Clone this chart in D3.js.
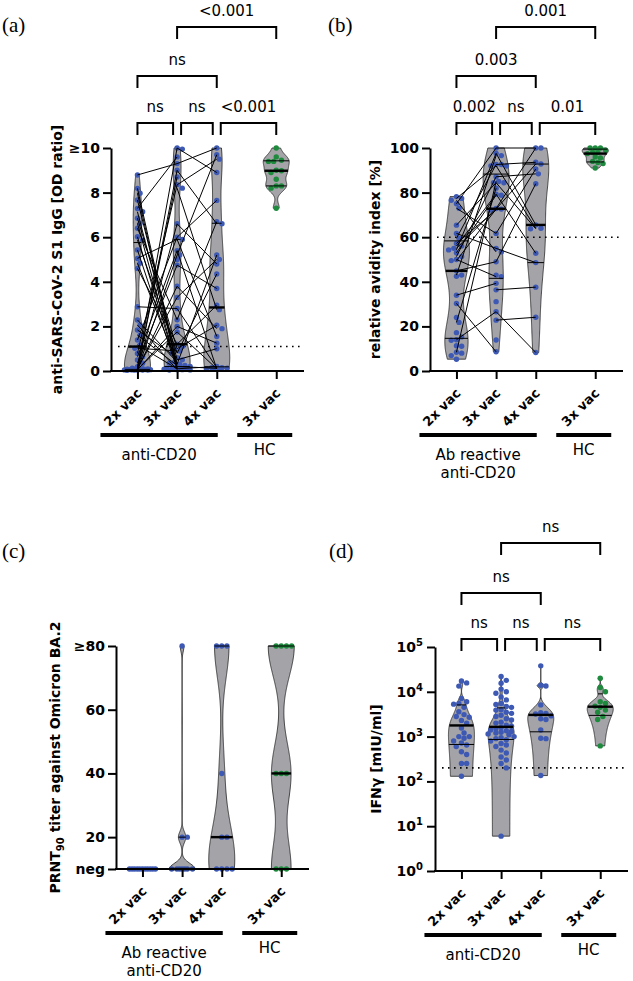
<!DOCTYPE html>
<html><head><meta charset="utf-8">
<script src="https://cdn.jsdelivr.net/npm/d3@7"></script>
<style>body{margin:0;background:#fff}</style>
</head><body>
<script>
// ---------------- DATA ----------------
const categories = ["2x vac", "3x vac", "4x vac", "3x vac"];

// (a) anti-SARS-CoV-2 S1 IgG [OD ratio]
const igg2x = [8.79, 8.19, 7.97, 7.67, 7.29, 7.14, 6.85, 6.62, 6.40, 6.02, 5.87, 5.43, 5.05, 4.83, 4.60, 2.88, 2.29, 2.06, 1.84, 1.61, 1.39, 1.17, 1.02, 0.79, 0.64, 0.49, 0.35, 0.19, 0.12, 0.10, 0.09, 0.08, 0.08, 0.07, 0.07, 0.06, 0.06, 0.05, 0.05, 0.05, 0.04, 0.04, 0.04, 0.03];
const igg3x = [10.0, 9.95, 9.6, 9.3, 9.0, 8.7, 8.35, 8.2, 6.6, 6.0, 5.9, 5.4, 5.2, 5.0, 4.75, 3.8, 3.3, 2.8, 2.3, 2.0, 1.75, 1.2, 1.1, 1.0, 0.9, 0.8, 0.6, 0.5, 0.4, 0.35, 0.3, 0.25, 0.2, 0.15, 0.12, 0.1, 0.1, 0.08, 0.08, 0.06, 0.06, 0.05, 0.04];
const igg4x = [10.0, 9.7, 9.5, 8.9, 7.65, 6.7, 6.6, 5.2, 5.0, 4.8, 4.35, 3.7, 2.95, 2.75, 2.05, 1.9, 1.55, 1.25, 1.0, 0.2, 0.15, 0.15, 0.12, 0.1, 0.1, 0.1];
const iggHC = [10.0, 9.6, 9.45, 9.4, 9.4, 9.0, 8.98, 8.9, 8.6, 8.3, 8.3, 8.2, 7.3];
const iggPairs23 = [[8.79, 9.3], [8.19, 0.2], [7.97, 0.1], [7.67, 0.5], [7.29, 9.6], [7.14, 0.3], [6.85, 1.0], [6.62, 0.12], [6.40, 2.3], [6.02, 0.15], [5.87, 0.8], [5.43, 0.08], [5.05, 5.9], [4.83, 0.35], [4.60, 1.2], [2.88, 2.8], [2.29, 0.4], [2.06, 0.06], [1.84, 0.6], [1.61, 0.25], [1.39, 6.0], [1.17, 0.1], [1.02, 0.9], [0.79, 8.35], [0.64, 5.4], [0.35, 4.75], [0.19, 10.0], [0.12, 3.3], [0.10, 9.0], [0.09, 8.7], [0.08, 1.75], [0.07, 3.8], [0.06, 6.6], [0.05, 2.0], [0.04, 5.2]];
const iggPairs34 = [[10.0, 8.9], [9.3, 10.0], [9.0, 6.6], [8.35, 9.5], [8.2, 2.75], [6.6, 4.8], [6.0, 7.65], [5.9, 1.55], [5.4, 0.1], [5.2, 9.7], [4.75, 3.7], [3.8, 1.9], [3.3, 5.0], [2.8, 0.15], [2.3, 6.7], [2.0, 1.25], [1.75, 0.1], [1.2, 2.95], [1.0, 2.05], [0.8, 4.35], [0.5, 1.0], [0.3, 5.2], [0.2, 0.12], [0.1, 0.2]];
const iggTicks = [0, 2, 4, 6, 8, 10];
const iggTickLabels = ["0", "2", "4", "6", "8", "≥10"];
const iggCutoff = 1.1;
const iggBrackets = [[0, 1, "ns", 0], [1, 2, "ns", 0], [2, 3, "<0.001", 0], [0, 2, "ns", 1], [1, 3, "<0.001", 2]];

// (b) relative avidity index [%]
const avid2x = [78.2, 77.4, 76.6, 75, 73, 65.4, 61.7, 59.5, 57.2, 56, 55, 54.3, 53, 51.3, 50, 49.5, 44.9, 43, 42.5, 34, 30.3, 24, 21.8, 17.2, 15.3, 14, 13.8, 11.3, 11.1, 8.4, 8.0, 6.9, 5.3];
const avid3x = [100, 97.6, 96.6, 92.6, 92.6, 92, 91.9, 87.1, 85, 84.4, 84.4, 82, 79.3, 78.8, 72.9, 72.6, 72.2, 61.7, 55, 53.4, 49, 43, 42.3, 39.3, 36.4, 31.1, 26.6, 22.8, 13.9, 8.6];
const avid4x = [100, 100, 93.6, 92.8, 90.6, 88.4, 84, 65.5, 64, 63.8, 52.8, 48.6, 37.6, 24.1, 8.3];
const avidHC = [100, 100, 100, 99, 98, 98, 97.5, 96, 95.5, 94, 93.5, 93, 91];
const avidPairs23 = [[77.4, 92], [76.6, 53.4], [75, 100], [73, 61.7], [65.4, 84.4], [61.7, 55], [59.5, 92.6], [57.2, 72.2], [56, 79.3], [55, 72.9], [54.3, 97.6], [53, 78.8], [51.3, 87.1], [50, 42.3], [49.5, 72.6], [44.9, 49], [43, 96.6], [34, 39.3], [30.3, 8.6], [21.8, 82], [14, 26.6], [8.4, 85]];
const avidPairs34 = [[100, 100], [97.6, 65.5], [92.6, 93.6], [92, 64], [87.1, 88.4], [84.4, 63.8], [79.3, 52.8], [72.9, 100], [72.6, 92.8], [61.7, 90.6], [55, 48.6], [49, 84], [36.4, 37.6], [26.6, 8.3], [22.8, 24.1]];
const avidTicks = [0, 20, 40, 60, 80, 100];
const avidTickLabels = ["0", "20", "40", "60", "80", "100"];
const avidCutoff = 60;
const avidBrackets = [[0, 1, "0.002", 0], [1, 2, "ns", 0], [2, 3, "0.01", 0], [0, 2, "0.003", 1], [1, 3, "0.001", 2]];

// (c) PRNT90 titer against Omicron BA.2 (10 = neg)
const prnt2x = [10, 10, 10, 10, 10, 10, 10, 10, 10, 10, 10];
const prnt3x = [80, 20, 20, 10, 10, 10, 10, 10, 10, 10];
const prnt4x = [80, 80, 80, 40, 20, 20, 10, 10, 10, 10];
const prntHC = [80, 80, 80, 80, 40, 40, 40, 10, 10, 10];
const prntTicks = [10, 20, 40, 60, 80];
const prntTickLabels = ["neg", "20", "40", "60", "≥80"];

// (d) IFNγ [mIU/ml]
const ifn2x = [17400, 15800, 13400, 7100, 6000, 5500, 5300, 4500, 3600, 3100, 2800, 2700, 2300, 2000, 1550, 1200, 1000, 1000, 920, 800, 720, 650, 600, 460, 400, 250, 250, 130];
const ifn3x = [22000, 18000, 15500, 11500, 10000, 9300, 7700, 6600, 5500, 5200, 4700, 4500, 4000, 3900, 3500, 3300, 3000, 2800, 2500, 2350, 2100, 2000, 1800, 1700, 1600, 1500, 1400, 1350, 1300, 1250, 1200, 1150, 1100, 1000, 950, 900, 850, 800, 700, 650, 600, 500, 430, 350, 300, 250, 200, 6];
const ifn4x = [38000, 14000, 13500, 5100, 3400, 3300, 3200, 2900, 2500, 2400, 1400, 920, 900, 135];
const ifnHC = [20000, 12500, 10000, 6000, 5500, 4800, 4500, 3900, 3500, 2800, 2400, 620];
const ifnTicks = [1, 10, 100, 1000, 10000, 100000];
const ifnCutoff = 200;
const ifnBrackets = [[0, 1, "ns", 0], [1, 2, "ns", 0], [2, 3, "ns", 0], [0, 2, "ns", 1], [1, 3, "ns", 2]];

// ---------------- STYLE / LAYOUT ----------------
const W = 633, H = 981;
const SANS = "'DejaVu Sans', Verdana, sans-serif";
const SERIF = "'Liberation Serif', 'Times New Roman', serif";
const BLUE = "#3d59b4", GREEN = "#1d8a3d", VFILL = "#a3a3a8";
const slots = [0, 1, 2, 3.5];
const PLOT_W = 193;

const svg = d3.select("body").append("svg").attr("width", W).attr("height", H)
  .style("font-family", SANS);

// Prism-style quantile: (n+1) method
function quant(so, p) {
  const n = so.length;
  let pos = p * (n + 1);
  if (pos < 1) pos = 1; if (pos > n) pos = n;
  const lo = Math.floor(pos), f = pos - lo;
  return lo >= n ? so[n - 1] : so[lo - 1] + f * (so[lo] - so[lo - 1]);
}
function silverman(vals) {
  const s = d3.deviation(vals) || 0;
  const so = vals.slice().sort(d3.ascending);
  const iqr = d3.quantile(so, 0.75) - d3.quantile(so, 0.25);
  let a = Math.min(s, iqr / 1.34);
  if (!(a > 0)) a = s;
  return 0.9 * a * Math.pow(vals.length, -0.2);
}
function density(vals, h, t) {
  let s = 0;
  for (const v of vals) { const z = (t - v) / h; s += Math.exp(-0.5 * z * z); }
  return s;
}
function swarm(pys, r, step, maxOff) {
  const placed = [], res = [];
  const order = pys.map((_, i) => i).sort((a, b) => pys[a] - pys[b]);
  const nSteps = Math.floor(maxOff / step);
  for (const i of order) {
    const py = pys[i];
    let best = 0, bestScore = -1;
    for (let k = 0; k <= 2 * nSteps; k++) {
      const off = (k % 2 ? 1 : -1) * Math.ceil(k / 2) * step;
      let md = Infinity;
      for (const p of placed) { const d = Math.hypot(p.x - off, p.y - py); if (d < md) md = d; }
      if (md >= 2 * r * 0.95) { best = off; bestScore = Infinity; break; }
      if (md > bestScore + 0.01) { bestScore = md; best = off; }
    }
    placed.push({ x: best, y: py });
    res[i] = best;
  }
  return res;
}

function panel(cfg) {
  const g = svg.append("g");
  const x = d3.scaleLinear().domain([-0.667, 4.2]).range([cfg.left, cfg.left + PLOT_W]);
  const y = cfg.y;
  const axisY = cfg.bottom;
  const HALF = 13;

  // violins
  const info = cfg.groups.map((grp, gi) => {
    const cx = x(slots[gi]);
    const vals = grp.values;
    const mn = d3.min(vals), mx = d3.max(vals);
    const h = silverman(vals) * cfg.bw;
    let hwAt = null;
    if (mx > mn && h > 0) {
      const N = 220;
      const tr = cfg.log ? Math.log10 : (v => v);
      const inv = cfg.log ? (t => Math.pow(10, t)) : (t => t);
      const t0 = tr(mn), t1 = tr(mx);
      const pts = d3.range(N + 1).map(i => { const v = inv(t0 + (t1 - t0) * i / N); return [v, density(vals, h, v)]; });
      const maxD = d3.max(pts, p => p[1]);
      const hw = d => d / maxD * HALF;
      hwAt = v => hw(density(vals, h, v));
      const area = d3.area().x0(p => cx - hw(p[1])).x1(p => cx + hw(p[1])).y(p => y(p[0]));
      g.append("path").attr("d", area(pts)).attr("fill", VFILL)
        .attr("stroke", "#222").attr("stroke-width", 0.8);
    }
    return { cx, hwAt, vals, color: grp.color };
  });

  // dotted cutoff
  if (cfg.cutoff != null) {
    g.append("line").attr("x1", cfg.left + 7).attr("x2", cfg.left + PLOT_W)
      .attr("y1", y(cfg.cutoff)).attr("y2", y(cfg.cutoff))
      .attr("stroke", "#000").attr("stroke-width", 1.6).attr("stroke-dasharray", "1.6,4.4");
  }

  // points
  info.forEach(inf => {
    const pys = inf.vals.map(v => y(v));
    const offs = swarm(pys, 2.7, 2.6, 13);
    g.selectAll(null).data(inf.vals).enter().append("circle")
      .attr("cx", (d, i) => inf.cx + offs[i]).attr("cy", d => y(d)).attr("r", 2.7)
      .attr("fill", inf.color);
  });

  // paired lines
  (cfg.pairs || []).forEach(([gi, gj, prs]) => {
    g.selectAll(null).data(prs).enter().append("line")
      .attr("x1", x(slots[gi])).attr("x2", x(slots[gj]))
      .attr("y1", d => y(d[0])).attr("y2", d => y(d[1]))
      .attr("stroke", "#000").attr("stroke-width", 1);
  });

  // median / quartiles
  info.forEach(inf => {
    if (!inf.hwAt) return;
    const so = inf.vals.slice().sort(d3.ascending);
    [[0.25, 1], [0.5, 2.4], [0.75, 1]].forEach(([p, sw]) => {
      const q = quant(so, p);
      const hw = inf.hwAt(q);
      g.append("line").attr("x1", inf.cx - hw).attr("x2", inf.cx + hw)
        .attr("y1", y(q)).attr("y2", y(q)).attr("stroke", "#000").attr("stroke-width", sw);
    });
  });

  // y axis
  const ya = d3.axisLeft(y).tickValues(cfg.ticks).tickSize(8).tickPadding(3).tickSizeOuter(0)
    .tickFormat((d, i) => cfg.tickLabels ? cfg.tickLabels[i] : "");
  const gy = g.append("g").attr("transform", `translate(${cfg.left},0)`).call(ya)
    .attr("font-family", SANS).attr("font-size", 14).attr("font-weight", "bold");
  gy.select(".domain").attr("stroke", "#000").attr("stroke-width", 2);
  gy.selectAll(".tick line").attr("stroke", "#000").attr("stroke-width", 2);
  gy.selectAll(".tick text").attr("fill", "#000");
  if (cfg.log) {
    gy.selectAll(".tick text").each(function (d) {
      const t = d3.select(this);
      t.text(null).attr("x", -12);
      t.append("tspan").text("10");
      t.append("tspan").attr("dy", -6).attr("font-size", 10).text(Math.round(Math.log10(d)));
    });
  }

  // x axis
  const xa = d3.axisBottom(x).tickValues(slots).tickFormat("").tickSize(8).tickSizeOuter(0);
  const gx = g.append("g").attr("transform", `translate(0,${axisY})`).call(xa);
  gx.select(".domain").attr("stroke", "#000").attr("stroke-width", 2.2).attr("d", `M${cfg.left - 1},0H${cfg.left + PLOT_W}`);
  gx.selectAll(".tick line").attr("stroke", "#000").attr("stroke-width", 2);

  categories.forEach((c, i) => {
    g.append("text").attr("transform", `translate(${x(slots[i]) + 5},${axisY + 23}) rotate(-45)`)
      .attr("text-anchor", "end").attr("font-size", 13).attr("font-weight", "bold").text(c);
  });

  // group lines and labels
  const gl = axisY + 64;
  const g1a = x(slots[0]) - 37, g1b = x(slots[2]) + 1;
  const g2a = x(slots[3]) - 39, g2b = x(slots[3]) + 16;
  [[g1a, g1b], [g2a, g2b]].forEach(([a, b]) => {
    g.append("line").attr("x1", a).attr("x2", b).attr("y1", gl).attr("y2", gl)
      .attr("stroke", "#000").attr("stroke-width", 4);
  });
  cfg.groupLabel.forEach((t, k) => {
    g.append("text").attr("x", (g1a + g1b) / 2).attr("y", gl + 25 + k * 18)
      .attr("text-anchor", "middle").attr("font-size", 15).text(t);
  });
  g.append("text").attr("x", (g2a + g2b) / 2).attr("y", gl + 20)
    .attr("text-anchor", "middle").attr("font-size", 15).text("HC");

  // brackets
  (cfg.brackets || []).forEach(([i, j, lab, lev]) => {
    const by = cfg.bracketY[lev];
    let xa1 = x(slots[i]), xb1 = x(slots[j]);
    if (lev === 0) { if (i > 0) xa1 += 4; if (j < 3) xb1 -= 4; }
    g.append("path").attr("d", `M${xa1},${by + 12}V${by}H${xb1}V${by + 12}`)
      .attr("fill", "none").attr("stroke", "#000").attr("stroke-width", 2);
    g.append("text").attr("x", (xa1 + xb1) / 2).attr("y", by - 11)
      .attr("text-anchor", "middle").attr("font-size", 15).text(lab);
  });

  // y title
  const yt = g.append("text")
    .attr("transform", `translate(${cfg.titleX},${(y.range()[0] + y.range()[1]) / 2}) rotate(-90)`)
    .attr("text-anchor", "middle").attr("font-size", 14).attr("font-weight", "bold");
  cfg.title.forEach(([txt, kind]) => {
    const ts = yt.append("tspan").text(txt);
    if (kind === "sub") ts.attr("font-size", 10).attr("dy", 4);
    if (kind === "after") ts.attr("dy", -4);
  });

  // panel label
  svg.append("text").attr("x", cfg.label[1]).attr("y", cfg.label[2])
    .attr("font-family", SERIF).attr("font-size", 21).text(cfg.label[0]);
}

panel({
  left: 111, bottom: 371, y: d3.scaleLinear().domain([0, 10]).range([371, 148]),
  groups: [{ values: igg2x, color: BLUE }, { values: igg3x, color: BLUE }, { values: igg4x, color: BLUE }, { values: iggHC, color: GREEN }],
  pairs: [[0, 1, iggPairs23], [1, 2, iggPairs34]],
  ticks: iggTicks, tickLabels: iggTickLabels, cutoff: iggCutoff, bw: 0.62,
  brackets: iggBrackets, bracketY: [123, 76, 27],
  groupLabel: ["anti-CD20"], title: [["anti-SARS-CoV-2 S1 IgG [OD ratio]", ""]], titleX: 62,
  label: ["(a)", 2, 32]
});
panel({
  left: 430, bottom: 371, y: d3.scaleLinear().domain([0, 100]).range([371, 148]),
  groups: [{ values: avid2x, color: BLUE }, { values: avid3x, color: BLUE }, { values: avid4x, color: BLUE }, { values: avidHC, color: GREEN }],
  pairs: [[0, 1, avidPairs23], [1, 2, avidPairs34]],
  ticks: avidTicks, tickLabels: avidTickLabels, cutoff: avidCutoff, bw: 0.85,
  brackets: avidBrackets, bracketY: [123, 76, 27],
  groupLabel: ["Ab reactive", "anti-CD20"], title: [["relative avidity index [%]", ""]], titleX: 380,
  label: ["(b)", 328, 32]
});
panel({
  left: 116, bottom: 869, y: d3.scaleLinear().domain([10, 80]).range([869, 646]),
  groups: [{ values: prnt2x, color: BLUE }, { values: prnt3x, color: BLUE }, { values: prnt4x, color: BLUE }, { values: prntHC, color: GREEN }],
  ticks: prntTicks, tickLabels: prntTickLabels, cutoff: null, bw: 0.55,
  groupLabel: ["Ab reactive", "anti-CD20"],
  title: [["PRNT", ""], ["90", "sub"], [" titer against Omicron BA.2", "after"]], titleX: 60,
  label: ["(c)", 2, 558]
});
panel({
  left: 435, bottom: 871, log: true, y: d3.scaleLog().domain([1, 100000]).range([871, 647]),
  groups: [{ values: ifn2x, color: BLUE }, { values: ifn3x, color: BLUE }, { values: ifn4x, color: BLUE }, { values: ifnHC, color: GREEN }],
  ticks: ifnTicks, tickLabels: null, cutoff: ifnCutoff, bw: 1,
  brackets: ifnBrackets, bracketY: [639, 593, 543],
  groupLabel: ["anti-CD20"], title: [["IFNγ [mIU/ml]", ""]], titleX: 381,
  label: ["(d)", 329, 558]
});
</script>
</body></html>
